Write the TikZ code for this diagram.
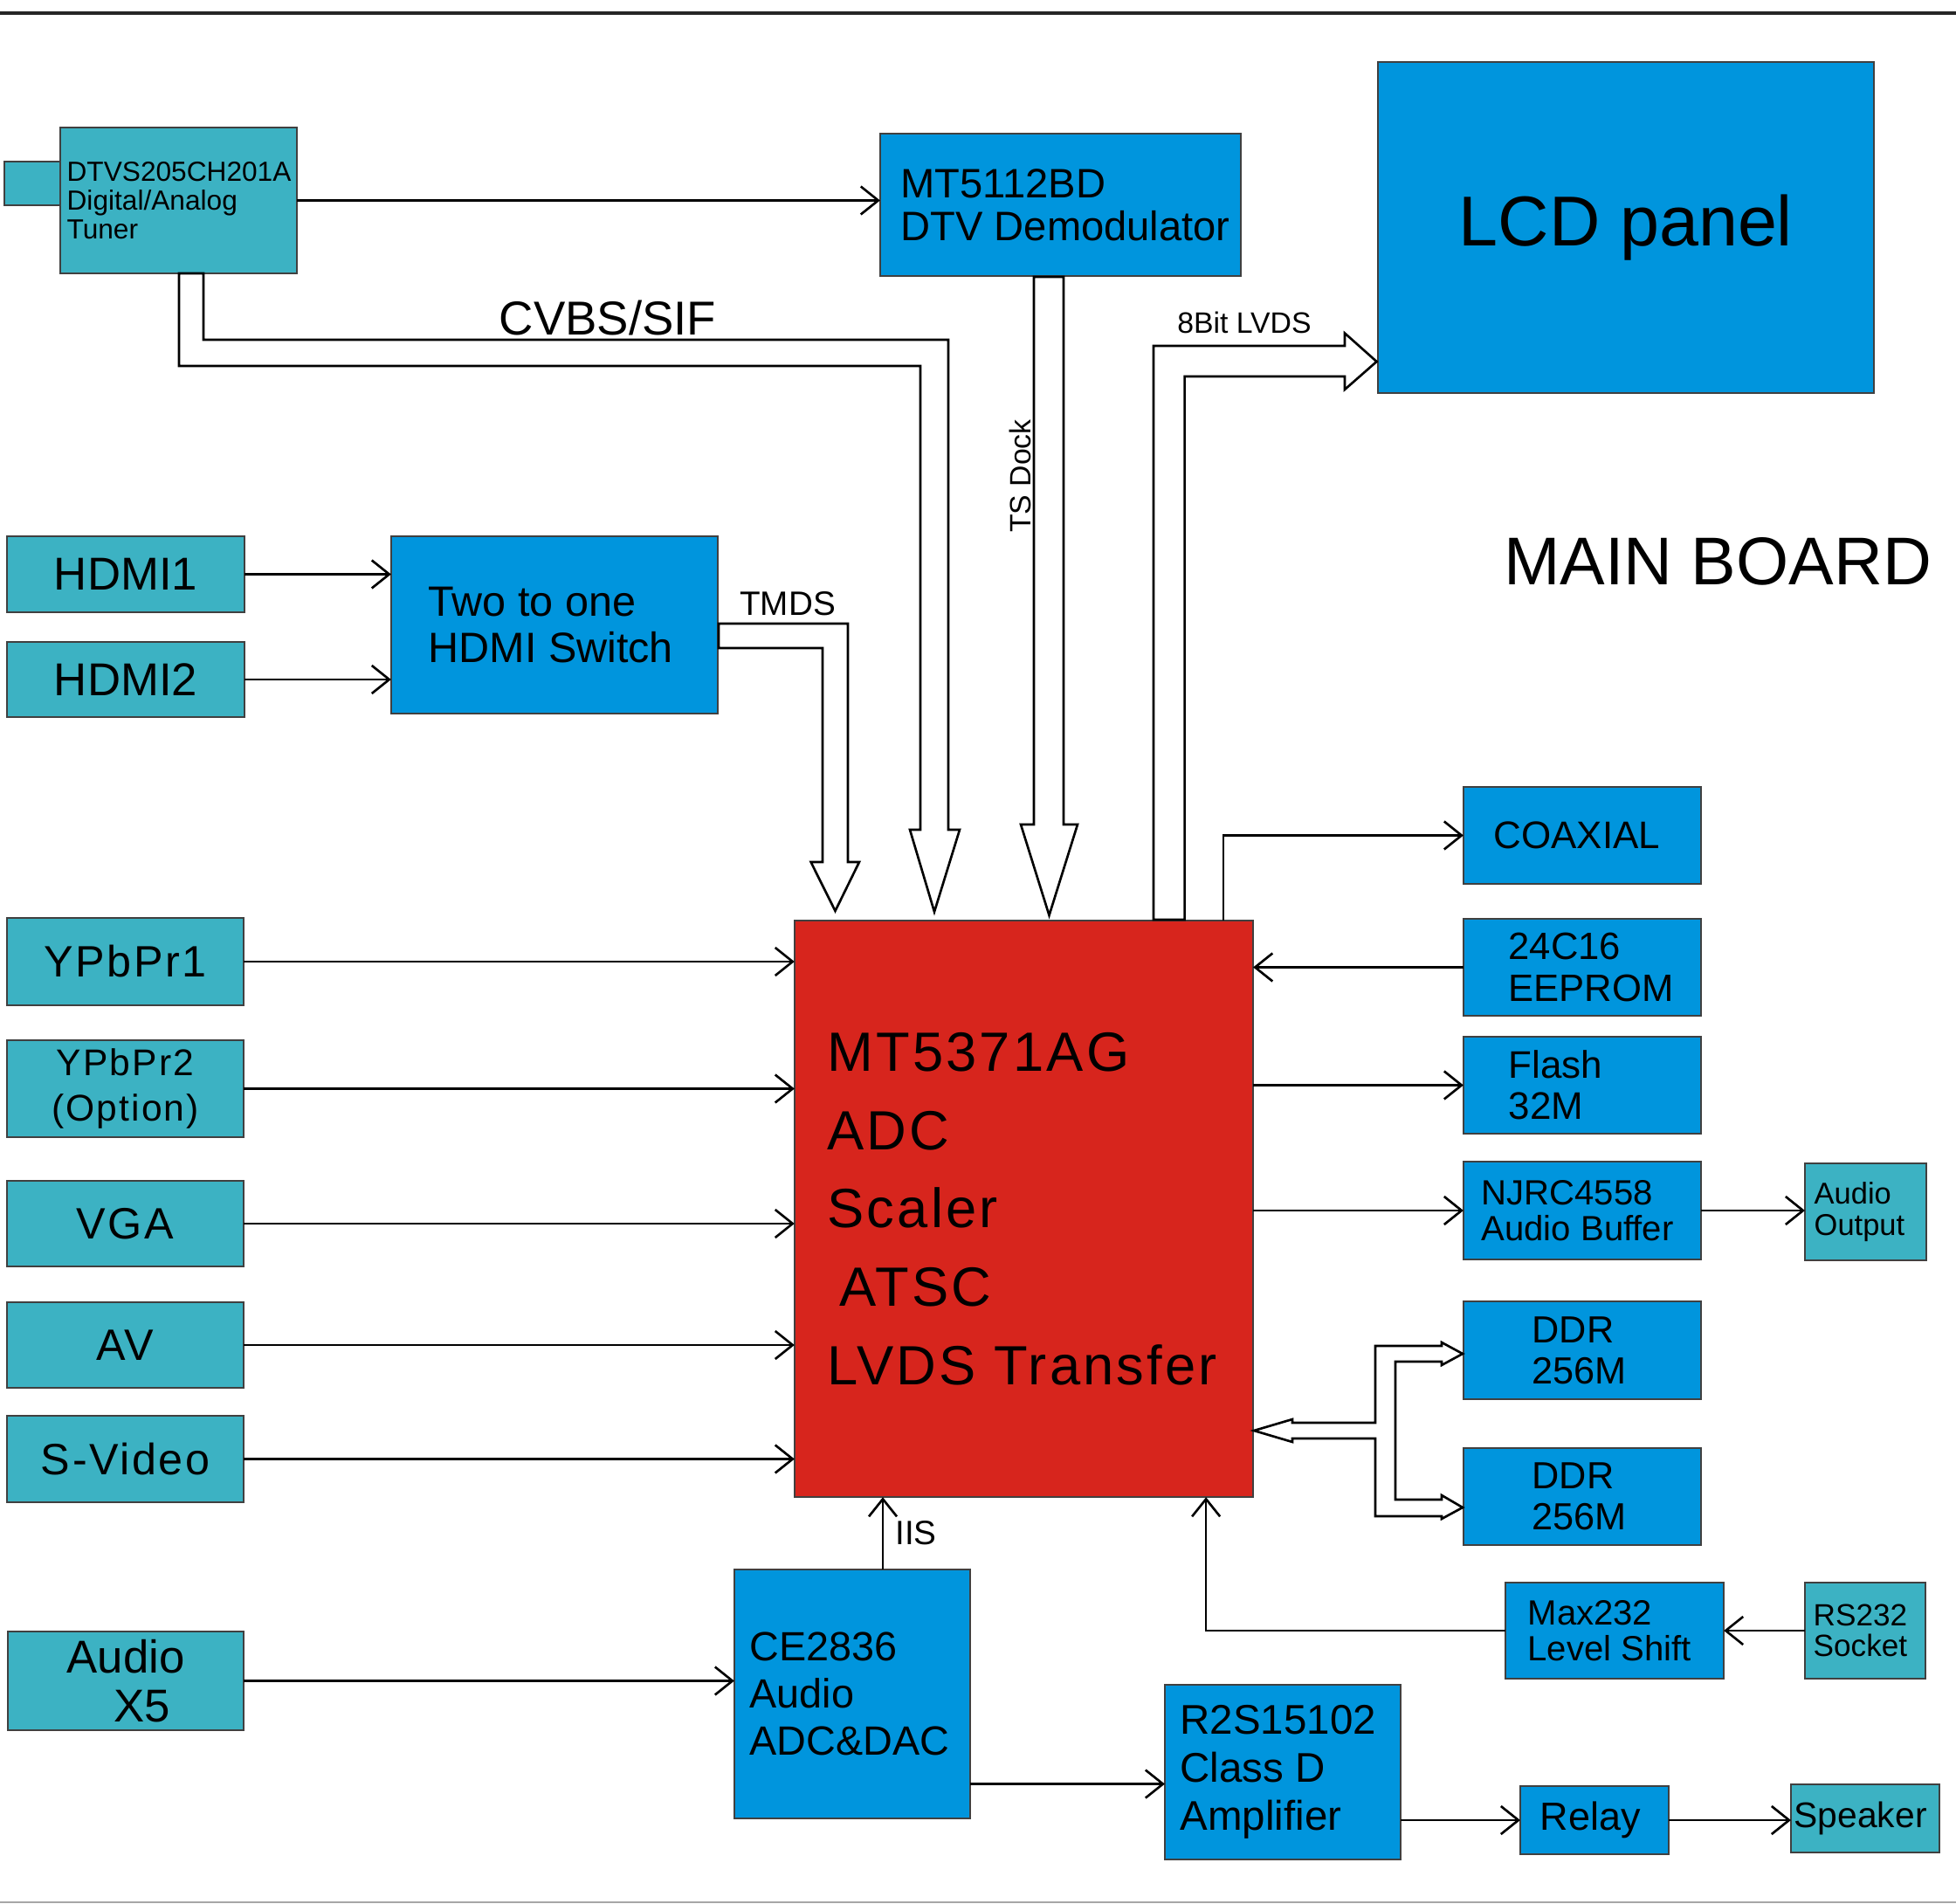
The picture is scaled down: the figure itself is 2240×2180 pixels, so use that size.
\documentclass[tikz,border=0pt]{standalone}
\usepackage{fontspec}
\setmainfont{Liberation Sans}
\newfontfamily\widefont[LetterSpace=5]{Liberation Sans}
\usetikzlibrary{arrows.meta,positioning}
\newcommand{\fs}[2]{\fontsize{#1pt}{#2pt}\selectfont}
\definecolor{portteal}{RGB}{60,178,195}
\definecolor{icblue}{RGB}{0,149,221}
\definecolor{socred}{RGB}{215,37,29}

\begin{document}
\begin{tikzpicture}[
  x=0.01cm, y=-0.01cm,
  box/.style={draw=black!75, line width=0.5pt, inner sep=0pt, outer sep=0pt},
  portbox/.style={box, fill=portteal},
  icbox/.style={box, fill=icblue},
  txt/.style={inner sep=0pt, align=left},
  conn/.style={-{Straight Barb[length=2mm,width=3.2mm]}, line width=0.75pt},
  hollow/.style={draw, fill=white, line width=0.75pt, line join=miter}
]
  \useasboundingbox (0,0) rectangle (2240,2180);
  \draw[line width=1.1pt, black!85] (0,15) -- (2240,15);
  \draw[line width=0.5pt, black!35] (0,2178) -- (2240,2178);

  % Tuner and demodulator
  \node[portbox, minimum width=0.64cm, minimum height=0.5cm] (ant) at (37,210) {};
  \node[portbox, minimum width=2.71cm, minimum height=1.67cm] (tuner) at (204.5,229.5) {};
  \node[txt, font=\fs{9}{9.4}, right=0.07cm of tuner.west] (tuner-t) {DTVS205CH201A\\Digital/Analog\\Tuner};
  \node[icbox, minimum width=4.13cm, minimum height=1.63cm] (demod) at (1214.5,234.5) {};
  \node[txt, font=\fs{13.4}{14}, right=0.23cm of demod.west] (demod-t) {MT5112BD\\DTV Demodulator};

  % Panel
  \node[icbox, minimum width=5.68cm, minimum height=3.79cm, font=\fs{23}{27}] (lcd) at (1862,260.5) {LCD panel};
  \node[inner sep=0pt, font=\fs{22}{26}] (board) at (1967,643) {MAIN BOARD};

  % HDMI
  \node[portbox, minimum width=2.72cm, minimum height=0.87cm, font=\fs{15}{17}] (hdmi1) at (144,657.5) {HDMI1};
  \node[portbox, minimum width=2.72cm, minimum height=0.86cm, font=\fs{15}{17}] (hdmi2) at (144,778) {HDMI2};
  \node[icbox, minimum width=3.74cm, minimum height=2.03cm] (switch) at (635,715.5) {};
  \node[txt, font=\fs{13.8}{15.1}, right=0.42cm of switch.west] (switch-t) {Two to one\\HDMI Switch};

  % Analog inputs
  \foreach \n/\y/\h/\t in {ypbpr1/1101/1.0/YPbPr1, vga/1401/0.98/VGA, av/1540/0.98/AV, svideo/1670.5/0.99/S-Video} {
    \node[portbox, minimum width=2.71cm, minimum height=\h cm, font=\widefont\fs{14.3}{17}] (\n) at (143.5,\y) {\t};
  }
  \node[portbox, minimum width=2.71cm, minimum height=1.11cm, font=\widefont\fs{12.1}{14.8}, align=center] (ypbpr2) at (143.5,1246.5) {YPbPr2\\(Option)};
  \node[portbox, minimum width=2.7cm, minimum height=1.13cm, font=\fs{15}{15.9}, align=center] (audiox5) at (144,1924.5) {Audio\\\hspace*{0.38cm}X5};

  % Main chip
  \node[box, fill=socred, minimum width=5.25cm, minimum height=6.6cm] (chip) at (1172.5,1384) {};
  \node[txt, font=\widefont\fs{18}{25.5}, right=0.37cm of chip.west] (chip-t) {MT5371AG\\ADC\\Scaler\\\hspace*{0.14cm}ATSC\\LVDS Transfer};

  % Right side
  \node[icbox, minimum width=2.72cm, minimum height=1.11cm] (coax) at (1812,956.5) {};
  \node[txt, font=\fs{12.5}{14}, right=0.34cm of coax.west] (coax-t) {COAXIAL};
  \node[icbox, minimum width=2.72cm, minimum height=1.11cm] (eeprom) at (1812,1107.5) {};
  \node[txt, font=\fs{12.4}{13.4}, right=0.51cm of eeprom.west] (eeprom-t) {24C16\\EEPROM};
  \node[icbox, minimum width=2.72cm, minimum height=1.11cm] (flash) at (1812,1242.5) {};
  \node[txt, font=\fs{12.5}{13.4}, right=0.51cm of flash.west] (flash-t) {Flash\\32M};
  \node[icbox, minimum width=2.72cm, minimum height=1.12cm] (njrc) at (1812,1386) {};
  \node[txt, font=\fs{11.4}{11.8}, right=0.2cm of njrc.west] (njrc-t) {NJRC4558\\Audio Buffer};
  \node[portbox, minimum width=1.39cm, minimum height=1.11cm] (audout) at (2136.5,1387.5) {};
  \node[txt, font=\fs{9.8}{10}, right=0.1cm of audout.west] (audout-t) {Audio\\Output};
  \node[icbox, minimum width=2.72cm, minimum height=1.12cm] (ddr1) at (1812,1546) {};
  \node[txt, font=\fs{12.3}{13.4}, right=0.78cm of ddr1.west] (ddr1-t) {DDR\\256M};
  \node[icbox, minimum width=2.72cm, minimum height=1.11cm] (ddr2) at (1812,1713.5) {};
  \node[txt, font=\fs{12.3}{13.4}, right=0.78cm of ddr2.west] (ddr2-t) {DDR\\256M};
  \node[icbox, minimum width=2.5cm, minimum height=1.1cm] (max232) at (1849,1867) {};
  \node[txt, font=\fs{11.4}{11.8}, right=0.25cm of max232.west] (max232-t) {Max232\\Level Shift};
  \node[portbox, minimum width=1.38cm, minimum height=1.1cm] (rs232) at (2136,1867) {};
  \node[txt, font=\fs{10}{10}, right=0.09cm of rs232.west] (rs232-t) {RS232\\Socket};

  % Audio path
  \node[icbox, minimum width=2.7cm, minimum height=2.85cm] (ce) at (976,1939.5) {};
  \node[txt, font=\fs{13.3}{15.4}, right=0.17cm of ce.west] (ce-t) {CE2836\\Audio\\ADC\&DAC};
  \node[icbox, minimum width=2.7cm, minimum height=2.0cm] (r2s) at (1469,2029) {};
  \node[txt, font=\fs{13.5}{15.6}, right=0.17cm of r2s.west] (r2s-t) {R2S15102\\Class D\\Amplifier};
  \node[icbox, minimum width=1.7cm, minimum height=0.78cm] (relay) at (1826,2084) {};
  \node[txt, font=\fs{12.8}{14}, right=0.22cm of relay.west] (relay-t) {Relay};
  \node[portbox, minimum width=1.7cm, minimum height=0.78cm] (speaker) at (2136,2082) {};
  \node[txt, font=\fs{11.6}{13}, right=0.03cm of speaker.west] (speaker-t) {Speaker};

  % Bus arrows
  \draw[hollow] (205,313) -- (205,419) -- (1054,419) -- (1054,950) -- (1042,950) -- (1070,1044)
    -- (1099,950) -- (1086,950) -- (1086,389) -- (233,389) -- (233,313) -- cycle;
  \draw[hollow] (1184,317) -- (1184,944) -- (1169,944) -- (1201.5,1048) -- (1234,944) -- (1218,944) -- (1218,317) -- cycle;
  \draw[hollow] (823,714) -- (971,714) -- (971,987) -- (984,987) -- (956.5,1043) -- (928.6,987)
    -- (942,987) -- (942,742) -- (823,742) -- cycle;
  \draw[hollow] (1321,1053) -- (1321,396) -- (1540,396) -- (1540,381.5) -- (1576.5,414) -- (1540,446)
    -- (1540,431) -- (1356.6,431) -- (1356.6,1053) -- cycle;
  \draw[hollow] (1436,1638) -- (1480,1625) -- (1480,1629) -- (1575,1629) -- (1575,1541) -- (1651,1541)
    -- (1651,1537) -- (1675,1550) -- (1651,1563) -- (1651,1559) -- (1598,1559) -- (1598,1717)
    -- (1651,1717) -- (1651,1712) -- (1675,1726) -- (1651,1739) -- (1651,1736) -- (1575,1736)
    -- (1575,1647) -- (1480,1647) -- (1480,1651) -- cycle;

  \node[inner sep=0pt, font=\fs{15.5}{18}] (cvbs) at (696,364) {CVBS/SIF};
  \node[inner sep=0pt, font=\fs{9.6}{11}, rotate=90] (tsdock) at (1168,545) {TS Dock};
  \node[inner sep=0pt, font=\fs{11}{13}] (tmds) at (902,691) {TMDS};
  \node[inner sep=0pt, font=\fs{9.6}{11}] (lvds) at (1425,369) {8Bit LVDS};

  % Connections
  \draw[conn] (tuner) -- (tuner -| demod.west);
  \draw[conn] (hdmi1) -- (hdmi1 -| switch.west);
  \draw[conn] (hdmi2) -- (hdmi2 -| switch.west);
  \foreach \n in {ypbpr1,ypbpr2,vga,av,svideo} {
    \draw[conn] (\n) -- (\n -| chip.west);
  }
  \draw[conn] (audiox5) -- (audiox5 -| ce.west);
  \draw[conn] ([xshift=-0.34cm]chip.north east) |- (coax.west);
  \draw[conn] (eeprom) -- (eeprom -| chip.east);
  \draw[conn] (flash -| chip.east) -- (flash);
  \draw[conn] (njrc -| chip.east) -- (njrc);
  \draw[conn] (njrc.east) -- (njrc.east -| audout.west);
  \draw[conn] (rs232) -- (max232);
  \draw[conn] (max232.west) -| ([xshift=-0.54cm]chip.south east);
  \draw[conn] ([xshift=0.35cm]ce.north) coordinate (iisb) -- (iisb |- chip.south)
    node[midway, right=0.13cm, inner sep=0pt, font=\fs{11}{13}] (iis) {IIS};
  \draw[conn] ([yshift=-1.03cm]ce.east) coordinate (cer) -- (cer -| r2s.west);
  \draw[conn] (relay -| r2s.east) -- (relay.west);
  \draw[conn] (relay) -- (relay -| speaker.west);
\end{tikzpicture}
\end{document}
